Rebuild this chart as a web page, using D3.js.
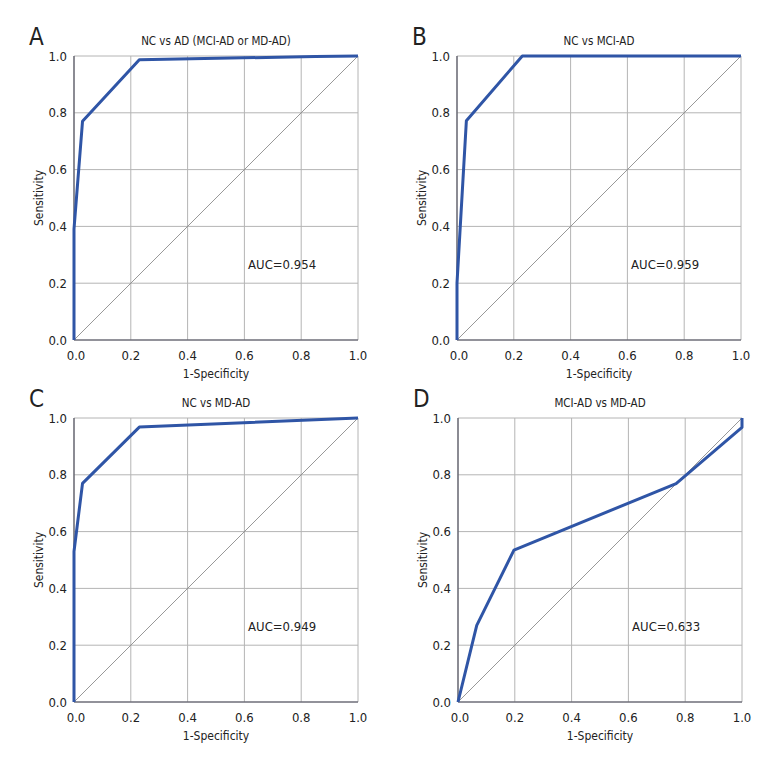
<!DOCTYPE html>
<html>
<head>
<meta charset="utf-8">
<script src="https://cdn.jsdelivr.net/npm/d3@7"></script>
<style>
    body { margin: 0; background: #fff; }
    svg text { font-family: "Liberation Sans Narrow", "DejaVu Sans Condensed", "Roboto", sans-serif; fill: #222; }
    .grid line { stroke: #b4b4b4; stroke-width: 1; }
    .axis-line { stroke: #6e6e78; stroke-width: 1.6; }
    .diag { stroke: #8c8c8c; stroke-width: 0.9; }
    .roc { fill: none; stroke: #2f55a6; stroke-width: 3; stroke-linejoin: round; }
</style>
</head>
<body>
<div id="chart"></div>
<script>
    // panel data
    var panelLetters = ["A", "B", "C", "D"];
    var panelTitles = ["NC vs AD (MCI-AD or MD-AD)", "NC vs MCI-AD", "NC vs MD-AD", "MCI-AD vs MD-AD"];
    var aucLabels = ["AUC=0.954", "AUC=0.959", "AUC=0.949", "AUC=0.633"];

    var fprA = [0, 0, 0.03, 0.23, 0.85, 1];
    var tprA = [0, 0.39, 0.77, 0.987, 0.998, 1];
    var fprB = [0, 0, 0.033, 0.23, 1];
    var tprB = [0, 0.2, 0.772, 1, 1];
    var fprC = [0, 0, 0.03, 0.23, 1];
    var tprC = [0, 0.53, 0.77, 0.968, 1];
    var fprD = [0, 0.066, 0.197, 0.768, 1, 1];
    var tprD = [0, 0.27, 0.535, 0.769, 0.967, 1];

    var tickValues = [0, 0.2, 0.4, 0.6, 0.8, 1.0];
    var diagonal = [0, 1];

    var panelFpr = [fprA, fprB, fprC, fprD];
    var panelTpr = [tprA, tprB, tprC, tprD];

    // plot rectangles (left, top) per panel
    var panelOrigins = [[74, 56], [457, 56], [74, 418], [458, 418]];
    var plotW = 284;
    var plotH = 284;

    var svg = d3.select("#chart")
        .append("svg")
        .attr("width", 780)
        .attr("height", 780);

    function paintPanel(i) {
        var g = svg.append("g")
            .attr("transform", "translate(" + panelOrigins[i][0] + "," + panelOrigins[i][1] + ")");

        var x = d3.scaleLinear().domain([0, 1]).range([0, plotW]);
        var y = d3.scaleLinear().domain([0, 1]).range([plotH, 0]);

        // grid
        g.append("g").attr("class", "grid")
            .selectAll("line.v").data(tickValues.slice(1)).enter()
            .append("line")
            .attr("x1", function (d) { return x(d); })
            .attr("x2", function (d) { return x(d); })
            .attr("y1", 0).attr("y2", plotH);
        g.append("g").attr("class", "grid")
            .selectAll("line.h").data(tickValues.slice(1)).enter()
            .append("line")
            .attr("y1", function (d) { return y(d); })
            .attr("y2", function (d) { return y(d); })
            .attr("x1", 0).attr("x2", plotW);

        // diagonal reference
        g.append("line")
            .attr("class", "diag")
            .attr("x1", x(diagonal[0])).attr("y1", y(diagonal[0]))
            .attr("x2", x(diagonal[1])).attr("y2", y(diagonal[1]));

        // axes
        g.append("line").attr("class", "axis-line")
            .attr("x1", 0).attr("x2", 0).attr("y1", 0).attr("y2", plotH);
        g.append("line").attr("class", "axis-line")
            .attr("x1", 0).attr("x2", plotW).attr("y1", plotH).attr("y2", plotH);

        // tick labels
        g.selectAll("text.xt").data(tickValues).enter()
            .append("text")
            .attr("x", function (d) { return x(d) + (d === 0 ? 2 : 0); })
            .attr("y", plotH + 20)
            .attr("text-anchor", "middle")
            .style("font-size", "13px")
            .text(function (d) { return d3.format(".1f")(d); });
        g.selectAll("text.yt").data(tickValues).enter()
            .append("text")
            .attr("x", -7)
            .attr("y", function (d) { return y(d); })
            .attr("dy", ".35em")
            .attr("text-anchor", "end")
            .style("font-size", "13px")
            .text(function (d) { return d3.format(".1f")(d); });

        // axis titles
        g.append("text")
            .attr("x", plotW / 2)
            .attr("y", plotH + 38)
            .attr("text-anchor", "middle")
            .style("font-size", "12px")
            .text("1-Specificity");
        g.append("text")
            .attr("transform", "translate(-31," + (plotH / 2) + ") rotate(-90)")
            .attr("text-anchor", "middle")
            .style("font-size", "12px")
            .text("Sensitivity");

        // panel title and letter
        g.append("text")
            .attr("x", plotW / 2)
            .attr("y", -11)
            .attr("text-anchor", "middle")
            .style("font-size", "11.5px")
            .text(panelTitles[i]);
        g.append("text")
            .attr("x", -45)
            .attr("y", -11)
            .style("font-size", "24px")
            .text(panelLetters[i]);

        // AUC label
        g.append("text")
            .attr("x", x(0.613))
            .attr("y", y(0.25))
            .style("font-size", "13px")
            .text(aucLabels[i]);

        // ROC curve
        var pts = panelFpr[i].map(function (f, k) { return [f, panelTpr[i][k]]; });
        var line = d3.line()
            .x(function (d) { return x(d[0]); })
            .y(function (d) { return y(d[1]); });
        g.append("path")
            .attr("class", "roc")
            .attr("d", line(pts));
    }

    panelLetters.forEach(function (d, i) { paintPanel(i); });
</script>
</body>
</html>
